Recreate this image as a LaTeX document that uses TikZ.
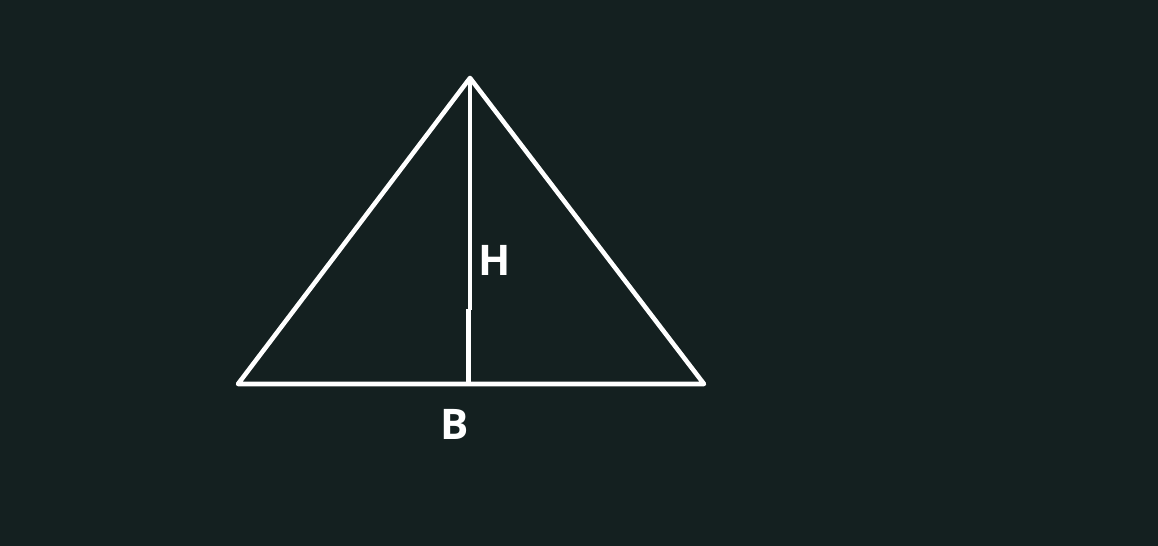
\documentclass[tikz,border=0pt]{standalone}
\usepackage{fontspec}
\setmainfont{Open Sans}
\definecolor{boardbg}{RGB}{20,32,32}
\colorlet{chalk}{white}

\begin{document}
\begin{tikzpicture}
\fill[boardbg] (0,0) rectangle (23.16,10.92);
\useasboundingbox (0,0) rectangle (23.16,10.92);
\tikzset{edge/.style={chalk, line width=2.6pt, line cap=round, line join=round},
  lbl/.style={text=chalk, font=\fontsize{24}{28}\selectfont\bfseries}}
\coordinate (left) at (4.76,3.24);
\coordinate (apex) at (9.40,9.36);
\coordinate (right) at (14.08,3.24);
\coordinate (hmid) at (9.40,4.72);
\coordinate (hjog) at (9.37,4.74);
\coordinate (foot) at (9.37,3.24);
\draw[edge] (left) -- (apex) -- (right) -- cycle;
\draw[edge, line cap=butt] (apex) -- (hmid);
\draw[edge, line cap=butt] (hjog) -- (foot);
\node[lbl] (hlabel) at (9.90,5.72) {H};
\node[lbl] (blabel) at (9.10,2.44) {B};
\end{tikzpicture}
\end{document}
